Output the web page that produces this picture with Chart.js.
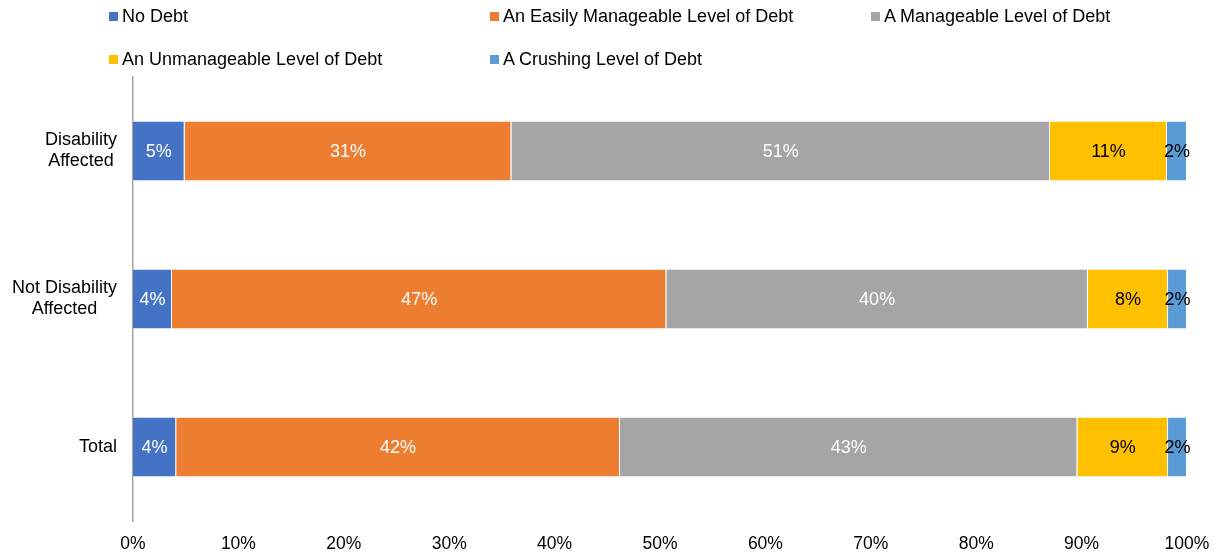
<!DOCTYPE html>
<html>
<head>
<meta charset="utf-8">
<script src="https://cdn.jsdelivr.net/npm/chart.js@4"></script>
<style>
  body { margin: 0; background: #fff; }
  #wrap { position: relative; width: 1216px; height: 557px; }
  .leg { position: absolute; font: 18px "Liberation Sans", Arial, sans-serif; color: #000; white-space: nowrap; line-height: 20px; }
  .leg i { display: inline-block; width: 9px; height: 9px; margin-right: 4px; vertical-align: 1px; }
</style>
</head>
<body>
<div id="wrap">
  <canvas id="debtChart" width="1216" height="557"></canvas>
  <div id="legend"></div>
</div>
<script>
// categories and series (percent of respondents)
const categories = [['Disability', 'Affected'], ['Not Disability', 'Affected'], ['Total']];
const seriesNames = ['No Debt', 'An Easily Manageable Level of Debt', 'A Manageable Level of Debt',
                     'An Unmanageable Level of Debt', 'A Crushing Level of Debt'];
const noDebt = [4.9, 3.7, 4.1];
const easyDebt = [31.0, 46.9, 42.1];
const manageableDebt = [51.1, 40.0, 43.4];
const unmanageableDebt = [11.1, 7.6, 8.6];
const crushingDebt = [1.9, 1.8, 1.8];
const xTicks = [0, 10, 20, 30, 40, 50, 60, 70, 80, 90, 100];

const colors = ['#4472C4', '#ED7D31', '#A5A5A5', '#FFC000', '#5B9BD5'];
const labelColors = ['#fff', '#fff', '#fff', '#000', '#000'];
const FONT = '"Liberation Sans", Arial, sans-serif';

const seriesValues = [noDebt, easyDebt, manageableDebt, unmanageableDebt, crushingDebt];

// legend in Excel-like grid
const legendPos = [[109, 6], [490, 6], [871, 6], [109, 49], [490, 49]];
const legendEl = document.getElementById('legend');
seriesNames.forEach((name, i) => {
    const d = document.createElement('div');
    d.className = 'leg';
    d.style.left = legendPos[i][0] + 'px';
    d.style.top = legendPos[i][1] + 'px';
    d.innerHTML = '<i style="background:' + colors[i] + '"></i>' + name;
    legendEl.appendChild(d);
});

// value labels in the middle of each segment
const segmentLabels = {
    id: 'segmentLabels',
    afterDatasetsDraw(chart) {
        const ctx = chart.ctx;
        ctx.save();
        ctx.font = '18px ' + FONT;
        ctx.textAlign = 'center';
        ctx.textBaseline = 'middle';
        chart.data.datasets.forEach((ds, di) => {
            const meta = chart.getDatasetMeta(di);
            ctx.fillStyle = labelColors[di];
            meta.data.forEach((bar, i) => {
                const p = bar.getCenterPoint();
                ctx.fillText(Math.round(ds.data[i]) + '%', p.x, p.y + 1);
            });
        });
        ctx.restore();
    }
};

// category labels, lines centred on each other and right aligned as a block
const categoryLabels = {
    id: 'categoryLabels',
    afterDraw(chart) {
        const ctx = chart.ctx;
        const y = chart.scales.y;
        const right = chart.chartArea.left - 16;
        const lh = 21;
        ctx.save();
        ctx.font = '18px ' + FONT;
        ctx.fillStyle = '#000';
        ctx.textAlign = 'center';
        ctx.textBaseline = 'middle';
        categories.forEach((lines, i) => {
            const w = Math.max(...lines.map(l => ctx.measureText(l).width));
            const cx = right - w / 2;
            const cy = y.getPixelForValue(i);
            lines.forEach((l, k) => {
                ctx.fillText(l, cx, cy + (k - (lines.length - 1) / 2) * lh);
            });
        });
        ctx.restore();
    }
};

new Chart(document.getElementById('debtChart'), {
    type: 'bar',
    data: {
        labels: categories.map(c => c.join(' ')),
        datasets: seriesNames.map((name, i) => ({
            label: name,
            data: seriesValues[i],
            backgroundColor: colors[i],
            borderColor: '#fff',
            borderWidth: 1,
            categoryPercentage: 1,
            barPercentage: 0.41
        }))
    },
    options: {
        indexAxis: 'y',
        responsive: false,
        animation: false,
        layout: { padding: { top: 77, right: 29, left: 0, bottom: 0 } },
        plugins: { legend: { display: false }, tooltip: { enabled: false } },
        scales: {
            x: {
                stacked: true,
                min: 0,
                max: 100,
                afterBuildTicks: s => { s.ticks = xTicks.map(v => ({ value: v })); },
                afterFit: s => { s.height = 36; },
                grid: { display: false },
                border: { display: false },
                ticks: {
                    padding: 5,
                    color: '#000',
                    font: { family: FONT, size: 17.5 },
                    callback: v => v + '%'
                }
            },
            y: {
                stacked: true,
                afterFit: s => { s.width = 133; },
                grid: { display: false },
                border: { display: true, color: '#A6A6A6', width: 1.5 },
                ticks: { display: false }
            }
        }
    },
    plugins: [segmentLabels, categoryLabels]
});
</script>
</body>
</html>
